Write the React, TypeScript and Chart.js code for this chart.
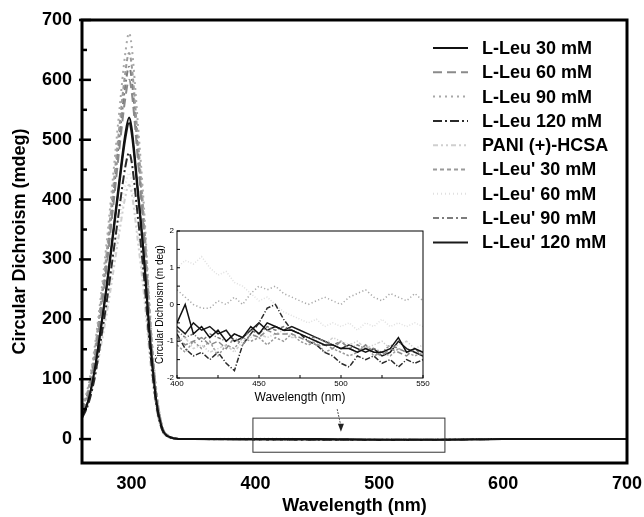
import React, { useEffect, useRef } from "react";
import { Chart, registerables } from "chart.js";
Chart.register(...registerables);

const FONT = "'Liberation Sans', Arial, Helvetica, sans-serif";

// ---------- main spectrum data ----------
const mainWavelengths = [260, 265, 270, 275, 280, 285, 290, 295, 298, 300, 305, 310, 315, 320, 325, 330, 335, 340, 350, 400, 450, 500, 550, 600, 650, 700];
const leu30 = [38, 64, 113, 183, 258, 344, 430, 510, 537, 521, 419, 306, 166, 64, 16, 4, 1, 0, 0, 0, 0, -1, -1, 0, 0, 0];
const leu60 = [45, 74, 128, 205, 290, 385, 482, 570, 600, 582, 470, 342, 186, 72, 18, 5, 1, 0, 0, 0, 0, -1, -1, 0, 0, 0];
const leu90 = [55, 88, 150, 235, 330, 437, 545, 645, 678, 658, 530, 388, 210, 82, 20, 5, 1, 0, 0, 0, 0, 0, 0, 0, 0, 0];
const leu120 = [35, 58, 100, 163, 230, 306, 383, 455, 478, 464, 373, 272, 148, 57, 14, 4, 1, 0, 0, 0, -1, -1, -1, 0, 0, 0];
const pani = [40, 62, 100, 152, 210, 276, 343, 405, 425, 412, 332, 242, 132, 51, 13, 3, 1, 0, 0, 0, 0, 0, 0, 0, 0, 0];
const leuP30 = [52, 83, 142, 224, 313, 415, 518, 613, 645, 626, 503, 368, 200, 77, 19, 5, 1, 0, 0, -1, -1, -1, -1, 0, 0, 0];
const leuP60 = [42, 65, 105, 160, 220, 289, 359, 424, 445, 432, 347, 254, 138, 53, 13, 4, 1, 0, 0, 1, 0, 0, 0, 0, 0, 0];
const leuP90 = [50, 80, 137, 216, 302, 400, 500, 591, 622, 603, 485, 355, 193, 75, 19, 5, 1, 0, 0, -1, -1, -1, -1, 0, 0, 0];
const leuP120 = [37, 63, 111, 180, 254, 338, 423, 502, 528, 512, 412, 301, 163, 63, 16, 4, 1, 0, 0, -1, -1, -1, -1, 0, 0, 0];

// ---------- inset (400-550 nm) data ----------
const insetWavelengths = [400, 405, 410, 415, 420, 425, 430, 435, 440, 445, 450, 455, 460, 465, 470, 475, 480, 485, 490, 495, 500, 505, 510, 515, 520, 525, 530, 535, 540, 545, 550];
const inLeu30 = [-0.5, 0.0, -0.8, -0.6, -0.9, -0.7, -1.0, -0.8, -0.9, -0.6, -0.8, -0.5, -0.6, -0.7, -0.7, -0.8, -0.9, -1.0, -1.1, -1.1, -1.2, -1.2, -1.3, -1.2, -1.3, -1.3, -1.2, -0.9, -1.3, -1.2, -1.3];
const inLeu60 = [-0.9, -1.1, -1.0, -0.9, -1.1, -1.0, -1.2, -0.9, -1.1, -0.8, -0.9, -0.7, -0.8, -0.8, -0.8, -0.9, -1.0, -1.1, -1.1, -1.2, -1.0, -1.2, -1.3, -1.1, -1.3, -1.4, -1.2, -1.3, -1.4, -1.2, -1.3];
const inLeu90 = [0.4, 0.2, 0.0, -0.1, -0.1, 0.1, 0.0, 0.2, 0.0, 0.3, 0.5, 0.4, 0.5, 0.3, 0.2, 0.1, 0.0, 0.1, 0.2, 0.1, 0.0, 0.2, 0.3, 0.4, 0.2, 0.1, 0.3, 0.2, 0.1, 0.3, 0.1];
const inLeu120 = [-0.8, -1.2, -1.4, -1.3, -1.5, -1.3, -1.6, -1.8, -1.1, -0.8, -0.5, -0.1, 0.0, -0.4, -0.7, -0.8, -1.0, -1.1, -1.3, -1.4, -1.6, -1.7, -1.4, -1.5, -1.4, -1.6, -1.5, -1.7, -1.5, -1.6, -1.5];
const inPani = [-1.0, -0.9, -1.2, -1.1, -1.3, -1.2, -1.1, -1.3, -1.0, -0.9, -0.8, -0.9, -0.8, -0.7, -0.9, -0.9, -1.0, -1.0, -1.1, -0.9, -1.0, -1.1, -1.0, -1.2, -1.1, -1.0, -1.2, -1.1, -1.0, -1.2, -1.1];
const inLeuP30 = [-1.1, -1.3, -1.0, -1.2, -1.0, -1.4, -1.1, -1.2, -0.9, -1.0, -0.9, -1.1, -0.9, -1.0, -0.8, -1.0, -1.1, -1.0, -1.3, -1.2, -1.3, -1.4, -1.3, -1.1, -1.4, -1.3, -1.4, -1.2, -1.3, -1.4, -1.3];
const inLeuP60 = [1.0, 1.2, 1.1, 1.3, 1.0, 0.8, 0.9, 0.6, 0.5, 0.3, 0.1, 0.2, 0.0, -0.2, -0.3, -0.4, -0.5, -0.4, -0.6, -0.5, -0.6, -0.5, -0.7, -0.5, -0.6, -0.4, -0.6, -0.5, -0.6, -0.5, -0.6];
const inLeuP90 = [-0.7, -0.9, -0.8, -1.0, -0.8, -0.9, -1.0, -0.8, -0.9, -0.7, -0.8, -0.6, -0.7, -0.6, -0.7, -0.8, -0.9, -0.9, -1.0, -1.1, -1.0, -1.2, -1.1, -1.2, -1.2, -1.3, -1.1, -1.2, -1.3, -1.2, -1.4];
const inLeuP120 = [-0.6, -0.8, -0.5, -0.7, -0.6, -0.8, -0.7, -1.0, -0.9, -0.7, -0.5, -0.7, -0.6, -0.7, -0.6, -0.7, -0.8, -0.9, -1.0, -1.1, -1.2, -1.1, -1.2, -1.3, -1.2, -1.4, -1.3, -1.0, -1.2, -1.3, -1.4];

const seriesLabels = ["L-Leu 30 mM", "L-Leu 60 mM", "L-Leu 90 mM", "L-Leu 120 mM", "PANI (+)-HCSA", "L-Leu' 30 mM", "L-Leu' 60 mM", "L-Leu' 90 mM", "L-Leu' 120 mM"];
const mainSeries = [leu30, leu60, leu90, leu120, pani, leuP30, leuP60, leuP90, leuP120];
const insetSeries = [inLeu30, inLeu60, inLeu90, inLeu120, inPani, inLeuP30, inLeuP60, inLeuP90, inLeuP120];

const mainXTicks = [300, 400, 500, 600, 700];
const mainYTicks = [0, 100, 200, 300, 400, 500, 600, 700];
const insetXTicks = [400, 450, 500, 550];
const insetYTicks = [-2, -1, 0, 1, 2];

// styles
const seriesColors = ["#111111", "#8a8a8a", "#a8a8a8", "#2a2a2a", "#cfcfcf", "#9a9a9a", "#e0e0e0", "#7c7c7c", "#1a1a1a"];
const seriesDashes: number[][] = [[], [9, 5], [2, 4], [9, 3, 2, 3], [5, 3, 2, 3, 2, 3], [4, 3], [1, 3], [6, 3, 2, 3], []];

const mainPlugin = {
  id: "mainDecor",
  afterDraw(chart: any) {
    const { ctx, chartArea } = chart;
    const xs = chart.scales.x;
    const ys = chart.scales.y;
    ctx.save();
    ctx.strokeStyle = "#000";
    ctx.lineWidth = 2.5;
    ctx.setLineDash([]);
    for (let v = 0; v <= 700; v += 50) {
      const y = ys.getPixelForValue(v);
      const len = v % 100 === 0 ? 9 : 5;
      ctx.beginPath();
      ctx.moveTo(chartArea.left - (v % 100 === 0 ? 3 : 0), y);
      ctx.lineTo(chartArea.left + len, y);
      ctx.stroke();
    }
    ctx.lineWidth = 3;
    ctx.strokeRect(chartArea.left, chartArea.top, chartArea.right - chartArea.left, chartArea.bottom - chartArea.top);

    const rx1 = xs.getPixelForValue(398);
    const rx2 = xs.getPixelForValue(553);
    const ry1 = ys.getPixelForValue(35);
    const ry2 = ys.getPixelForValue(-22);
    ctx.lineWidth = 1;
    ctx.strokeStyle = "#333";
    ctx.strokeRect(rx1, ry1, rx2 - rx1, ry2 - ry1);

    const ax1 = xs.getPixelForValue(466);
    const ay1 = ys.getPixelForValue(50);
    const ax2 = xs.getPixelForValue(469);
    const ay2 = ys.getPixelForValue(12);
    ctx.strokeStyle = "#555";
    ctx.lineWidth = 1;
    ctx.setLineDash([2, 1]);
    ctx.beginPath();
    ctx.moveTo(ax1, ay1);
    ctx.lineTo(ax2, ay2 - 6);
    ctx.stroke();
    ctx.setLineDash([]);
    ctx.fillStyle = "#222";
    ctx.beginPath();
    ctx.moveTo(ax2, ay2);
    ctx.lineTo(ax2 - 3, ay2 - 8);
    ctx.lineTo(ax2 + 3, ay2 - 8);
    ctx.closePath();
    ctx.fill();

    const lx1 = 433, lx2 = 468, tx = 482;
    ctx.font = `bold 18px ${FONT}`;
    ctx.textBaseline = "middle";
    ctx.textAlign = "left";
    seriesLabels.forEach((label, i) => {
      const y = 48 + i * 24.3;
      ctx.strokeStyle = seriesColors[i];
      ctx.lineWidth = 2;
      ctx.setLineDash(seriesDashes[i]);
      ctx.beginPath();
      ctx.moveTo(lx1, y);
      ctx.lineTo(lx2, y);
      ctx.stroke();
      ctx.setLineDash([]);
      ctx.fillStyle = "#000";
      ctx.fillText(label, tx, y + 1);
    });
    ctx.restore();
  },
};

const insetPlugin = {
  id: "insetDecor",
  afterDraw(chart: any) {
    const { ctx, chartArea } = chart;
    const xs = chart.scales.x;
    const ys = chart.scales.y;
    ctx.save();
    ctx.strokeStyle = "#000";
    ctx.lineWidth = 1;
    ctx.setLineDash([]);
    for (let v = 400; v <= 550; v += 25) {
      const x = xs.getPixelForValue(v);
      ctx.beginPath();
      ctx.moveTo(x, chartArea.bottom);
      ctx.lineTo(x, chartArea.bottom - 3);
      ctx.stroke();
    }
    for (let v = -2; v <= 2; v += 0.5) {
      const y = ys.getPixelForValue(v);
      ctx.beginPath();
      ctx.moveTo(chartArea.left, y);
      ctx.lineTo(chartArea.left + 3, y);
      ctx.stroke();
    }
    ctx.strokeRect(chartArea.left, chartArea.top, chartArea.right - chartArea.left, chartArea.bottom - chartArea.top);
    ctx.restore();
  },
};

function MainChart() {
  const ref = useRef<HTMLCanvasElement>(null);
  useEffect(() => {
    if (!ref.current) return;
    const datasets = mainSeries.map((vals, i) => ({
      label: seriesLabels[i],
      data: mainWavelengths.map((w, j) => ({ x: w, y: vals[j] })),
      borderColor: seriesColors[i],
      borderDash: seriesDashes[i],
      borderWidth: 2,
      pointRadius: 0,
      fill: false,
      cubicInterpolationMode: "monotone" as const,
    }));
    const chart = new Chart(ref.current, {
      type: "line",
      data: { datasets },
      plugins: [mainPlugin],
      options: {
        animation: false,
        responsive: false,
        maintainAspectRatio: false,
        layout: { padding: { left: 0, top: 20, right: 17, bottom: 0 } },
        plugins: { legend: { display: false }, tooltip: { enabled: false } },
        scales: {
          x: {
            type: "linear",
            min: 260,
            max: 700,
            afterBuildTicks: (s: any) => { s.ticks = mainXTicks.map((v) => ({ value: v })); },
            afterFit: (s: any) => { s.height = 54; s.paddingRight = 0; s.paddingLeft = 0; },
            grid: { display: false, drawTicks: false },
            border: { display: false },
            ticks: { padding: 10, color: "#000", font: { family: FONT, size: 18, weight: "bold" }, maxRotation: 0, autoSkip: false },
            title: { display: true, text: "Wavelength (nm)", color: "#000", padding: { top: 0, bottom: 0 }, font: { family: FONT, size: 18, weight: "bold" } },
          },
          y: {
            type: "linear",
            min: -40,
            max: 700,
            afterBuildTicks: (s: any) => { s.ticks = mainYTicks.map((v) => ({ value: v })); },
            afterFit: (s: any) => { s.width = 82; s.paddingTop = 0; s.paddingBottom = 0; },
            grid: { display: false, drawTicks: false },
            border: { display: false },
            ticks: { padding: 10, color: "#000", font: { family: FONT, size: 18, weight: "bold" }, autoSkip: false },
            title: { display: true, text: "Circular Dichroism (mdeg)", color: "#000", padding: { top: 9, bottom: 0 }, font: { family: FONT, size: 18, weight: "bold" } },
          },
        },
      },
    });
    return () => chart.destroy();
  }, []);
  return <canvas ref={ref} width={644} height={517} style={{ position: "absolute", left: 0, top: 0 }} />;
}

function InsetChart() {
  const ref = useRef<HTMLCanvasElement>(null);
  useEffect(() => {
    if (!ref.current) return;
    const datasets = insetSeries.map((vals, i) => ({
      label: seriesLabels[i],
      data: insetWavelengths.map((w, j) => ({ x: w, y: vals[j] })),
      borderColor: seriesColors[i],
      borderDash: seriesDashes[i].map((d) => Math.max(1, d * 0.6)),
      borderWidth: 1.5,
      pointRadius: 0,
      fill: false,
      tension: 0,
    }));
    const chart = new Chart(ref.current, {
      type: "line",
      data: { datasets },
      plugins: [insetPlugin],
      options: {
        animation: false,
        responsive: false,
        maintainAspectRatio: false,
        layout: { padding: { left: 0, top: 6, right: 7, bottom: 0 } },
        plugins: { legend: { display: false }, tooltip: { enabled: false } },
        scales: {
          x: {
            type: "linear",
            min: 400,
            max: 550,
            afterBuildTicks: (s: any) => { s.ticks = insetXTicks.map((v) => ({ value: v })); },
            afterFit: (s: any) => { s.height = 27; s.paddingRight = 0; s.paddingLeft = 0; },
            grid: { display: false, drawTicks: false },
            border: { display: false },
            ticks: { padding: 1, color: "#000", font: { family: FONT, size: 8 }, maxRotation: 0, autoSkip: false },
            title: { display: true, text: "Wavelength (nm)", color: "#000", padding: { top: 0, bottom: 0 }, font: { family: FONT, size: 12 } },
          },
          y: {
            type: "linear",
            min: -2,
            max: 2,
            afterBuildTicks: (s: any) => { s.ticks = insetYTicks.map((v) => ({ value: v })); },
            afterFit: (s: any) => { s.width = 27; s.paddingTop = 0; s.paddingBottom = 0; },
            grid: { display: false, drawTicks: false },
            border: { display: false },
            ticks: { padding: 3, color: "#000", font: { family: FONT, size: 8 }, autoSkip: false },
            title: { display: true, text: "Circular Dichroism (m deg)", color: "#000", padding: { top: 4, bottom: 0 }, font: { family: FONT, size: 10 } },
          },
        },
      },
    });
    return () => chart.destroy();
  }, []);
  return <canvas ref={ref} width={280} height={180} style={{ position: "absolute", left: 150, top: 225 }} />;
}

export default function App() {
  return (
    <div style={{ position: "fixed", left: 0, top: 0, width: 644, height: 517, background: "#fff", overflow: "hidden" }}>
      <MainChart />
      <InsetChart />
    </div>
  );
}
